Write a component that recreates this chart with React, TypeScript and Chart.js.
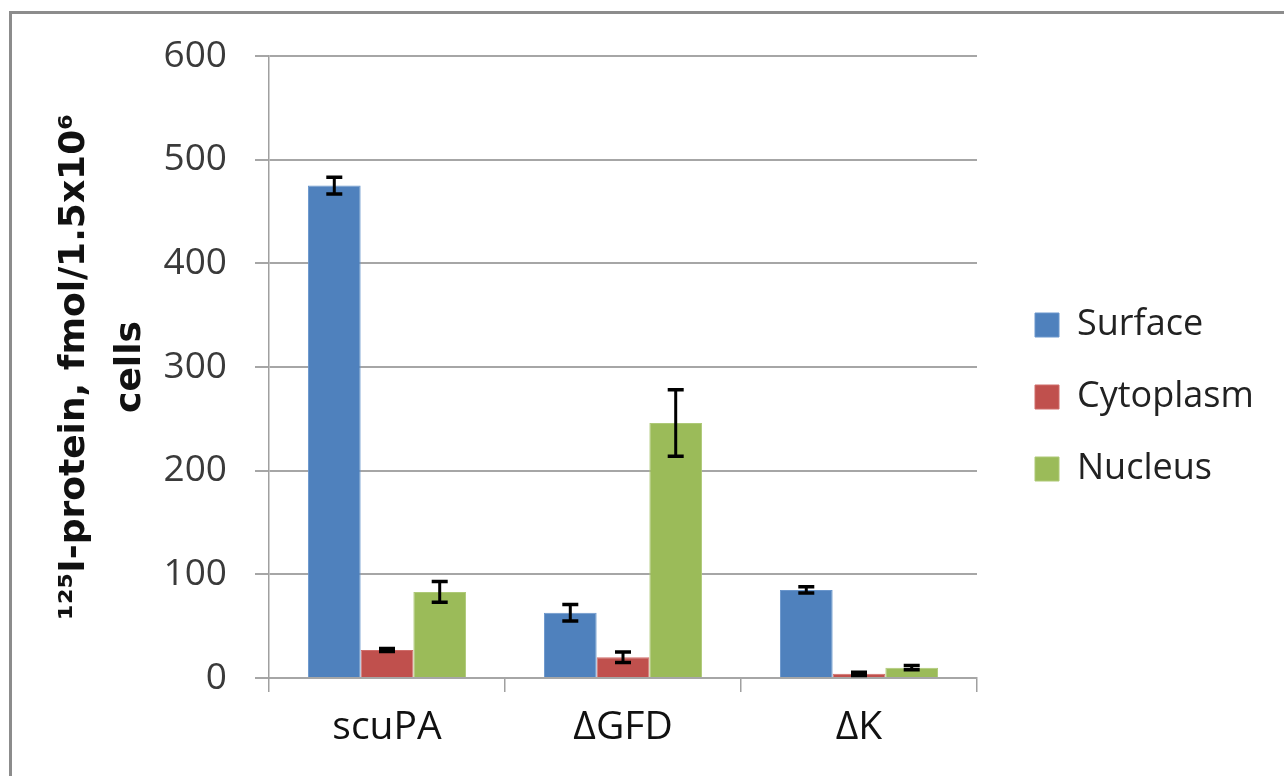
import React, { useEffect, useRef } from "react";
import { Chart, registerables } from "chart.js";

Chart.register(...registerables);

const categories = ["scuPA", "ΔGFD", "ΔK"];
const seriesNames = ["Surface", "Cytoplasm", "Nucleus"];
const surfaceValues = [475, 63, 85];
const cytoplasmValues = [27, 20, 4];
const nucleusValues = [83, 246, 10];
const surfaceErrors = [8, 8, 3];
const cytoplasmErrors = [1.5, 5, 1.5];
const nucleusErrors = [10, 32, 2];
const seriesColors = ["#4F81BD", "#C0504D", "#9BBB59"];
const seriesEdges = ["#6a96cc", "#cf6d6a", "#aec977"];
const yMin = 0;
const yMax = 600;
const yStep = 100;
const yTitle = ["¹²⁵I-protein, fmol/1.5x10⁶", "cells"];

const errorBarPlugin = {
  id: "errorBars",
  afterDatasetsDraw(chart: any) {
    const ctx = chart.ctx;
    const yScale = chart.scales.y;
    chart.data.datasets.forEach((ds: any, i: number) => {
      const meta = chart.getDatasetMeta(i);
      meta.data.forEach((el: any, j: number) => {
        const v = ds.data[j];
        const e = ds.errors[j];
        const top = yScale.getPixelForValue(v + e);
        const bot = yScale.getPixelForValue(v - e);
        const cap = 8;
        ctx.save();
        ctx.strokeStyle = "#000";
        ctx.lineWidth = 3;
        ctx.beginPath();
        ctx.moveTo(el.x, top);
        ctx.lineTo(el.x, bot);
        ctx.stroke();
        ctx.lineWidth = 3.5;
        ctx.beginPath();
        ctx.moveTo(el.x - cap, top);
        ctx.lineTo(el.x + cap, top);
        ctx.moveTo(el.x - cap, bot);
        ctx.lineTo(el.x + cap, bot);
        ctx.stroke();
        ctx.restore();
      });
    });
  },
};

const legendPlacer = {
  id: "legendPlacer",
  afterLayout(chart: any) {
    const lg = chart.legend;
    if (!lg) return;
    const w = lg.width;
    const h = lg.height;
    lg.left = 999;
    lg.right = 999 + w;
    lg.top = 271;
    lg.bottom = 271 + h;
  },
};

export default function App() {
  const canvasRef = useRef<HTMLCanvasElement | null>(null);

  useEffect(() => {
    if (!canvasRef.current) return;
    const valueSets = [surfaceValues, cytoplasmValues, nucleusValues];
    const errorSets = [surfaceErrors, cytoplasmErrors, nucleusErrors];
    const chart = new Chart(canvasRef.current, {
      type: "bar",
      data: {
        labels: categories,
        datasets: seriesNames.map((name, i) => ({
          label: name,
          data: valueSets[i],
          errors: errorSets[i],
          backgroundColor: seriesColors[i],
          borderColor: seriesEdges[i],
          borderWidth: 1,
          categoryPercentage: 0.67,
          barPercentage: 1,
        })) as any,
      },
      options: {
        responsive: false,
        animation: false,
        devicePixelRatio: 1,
        layout: { padding: { top: 56, right: 307, bottom: 0, left: 0 } },
        plugins: {
          tooltip: { enabled: false },
          legend: {
            position: "chartArea",
            align: "start",
            labels: {
              font: { family: "Open Sans", size: 36 },
              color: "#222",
              boxWidth: 24,
              boxHeight: 24,
              padding: 36,
            },
          },
        },
        scales: {
          x: {
            grid: {
              drawOnChartArea: false,
              drawTicks: true,
              tickLength: 14,
              color: "#a0a0a0",
              lineWidth: 1.5,
              offset: true,
            },
            border: { display: true, color: "#a6a6a6", width: 2 },
            ticks: {
              font: { family: "Open Sans", size: 39 },
              color: "#111",
              padding: 12,
            },
            afterFit(scale: any) {
              scale.height = 98;
            },
          },
          y: {
            min: yMin,
            max: yMax,
            ticks: {
              stepSize: yStep,
              font: { family: "Open Sans", size: 37 },
              color: "#3a3a3a",
              padding: 28,
            },
            grid: { color: "#a6a6a6", lineWidth: 2, tickLength: 14 },
            border: { display: true, color: "#a0a0a0", width: 1.5 },
            title: {
              display: true,
              text: yTitle,
              font: { family: "DejaVu Sans", size: 36, weight: "bold", lineHeight: 56 / 36 },
              color: "#111",
              padding: { top: 47, bottom: 0 },
            },
            afterFit(scale: any) {
              scale.width = 269;
            },
          },
        },
      } as any,
      plugins: [errorBarPlugin, legendPlacer],
    });
    return () => chart.destroy();
  }, []);

  return (
    <div style={{ position: "absolute", left: 0, top: 0, width: 1284, height: 776, background: "#fff", overflow: "hidden" }}>
      <canvas ref={canvasRef} width={1284} height={776} style={{ display: "block" }} />
      <div
        style={{
          position: "absolute",
          left: 9,
          top: 11,
          right: -10,
          bottom: -10,
          borderTop: "3px solid #8c8c8c",
          borderLeft: "3px solid #8c8c8c",
          pointerEvents: "none",
        }}
      />
    </div>
  );
}
